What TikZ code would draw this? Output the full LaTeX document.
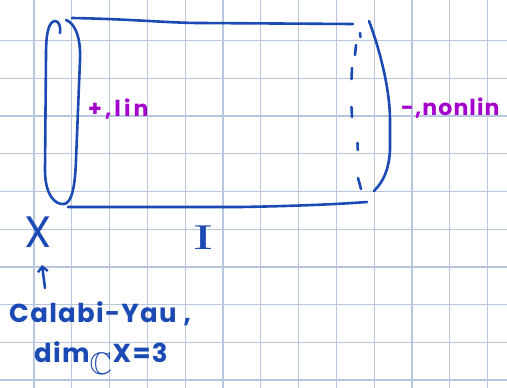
\documentclass[tikz,border=0pt]{standalone}
\usepackage{fontspec}
\usepackage{amssymb}
\setmainfont{Poppins}
\newfontfamily\handfont[LetterSpace=5]{Poppins}
\newfontfamily\serifhand{Liberation Serif}
\usetikzlibrary{arrows.meta}
\definecolor{ink}{RGB}{27,74,181}
\definecolor{violetink}{RGB}{163,0,204}
\definecolor{gridc}{RGB}{184,198,222}
\begin{document}
\begin{tikzpicture}[x=1pt,y=-1pt,
  inkline/.style={draw=ink,line width=2.6pt,line cap=round,line join=round},
  gridline/.style={draw=gridc,line width=1.3pt},
  bluetext/.style={text=ink,inner sep=0pt},
  purpletext/.style={text=violetink,inner sep=0pt,font=\handfont\bfseries\fontsize{22}{23}\selectfont}]
\useasboundingbox (0,0) rectangle (507,388);
\fill[white] (0,0) rectangle (507,388);
% grid paper
\foreach \i in {0,...,12} \draw[gridline] ({34+37.8*\i},0) -- ({34+37.8*\i},388);
\foreach \j in {0,...,9} \draw[gridline] (0,{40.7+37.7*\j}) -- (507,{40.7+37.7*\j});
% left loop (cross-section X)
\draw[inkline] (60,33) .. controls (61,27) and (59,21) .. (55,21)
  .. controls (48,22) and (46,35) .. (46,55) -- (45,170)
  .. controls (45,195) and (55,205) .. (64,204)
  .. controls (71,203) and (75,190) .. (76,160) -- (80,60)
  .. controls (81,35) and (74,23) .. (66,20);
% top and bottom edges
\draw[inkline] (72,18) .. controls (130,19) and (170,23) .. (200,23) -- (353,24);
\draw[inkline] (68,207) -- (240,207) .. controls (300,206) and (340,204) .. (367,202);
% right end: hidden (dashed) and visible arcs
\foreach \a/\b in {{(360,33)}/{(360.5,37)},{(356,45)}/{(355,55)},{(352,68)}/{(351.5,79)},{(351.5,107)}/{(352,117)},{(357.5,143)}/{(357.8,150)},{(358,178)}/{(361,189)}}
  \draw[inkline] \a -- \b;
\draw[inkline] (369,21) .. controls (380,50) and (390,90) .. (390,120) -- (390,150)
  .. controls (389,170) and (383,182) .. (374,191);
% labels
\node[purpletext,anchor=base west] (plus) at (88,116) {\addfontfeatures{LetterSpace=14}+,lin};
\node[purpletext,anchor=base west] (minus) at (401,115) {-,nonlin};
\node[bluetext,font=\handfont\fontsize{44}{44}\selectfont] (X) at (38,232) {X};
\node[bluetext,font=\serifhand\fontsize{36}{36}\selectfont] (I) at (203,238) {\scalebox{1.7}[1]{I}};
\node[bluetext,anchor=base west,font=\handfont\bfseries\fontsize{26}{28}\selectfont] (cy) at (9,322) {Calabi-Yau ,};
\node[bluetext,anchor=base west,font=\handfont\bfseries\fontsize{26}{28}\selectfont] (dim) at (34,362) {dim$_{\scalebox{1.2}{$\mathbb{C}$}}$X=3};
\coordinate (tail) at (45,288);
\coordinate (head) at (42,265);
\draw[inkline,-{Straight Barb[length=5pt,width=10pt,line width=2.4pt]}] (tail) -- (head);
\end{tikzpicture}
\end{document}
